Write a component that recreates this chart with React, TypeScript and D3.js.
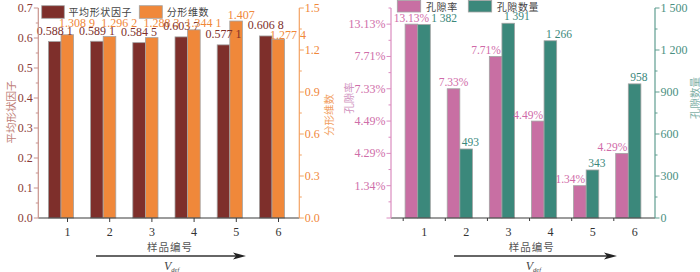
import React from 'react';
import * as d3 from 'd3';

// sample ids and measured values
const samples = [1, 2, 3, 4, 5, 6];
const shapeFactor = [0.5881, 0.5891, 0.5845, 0.6037, 0.5771, 0.6068];
const fractalDim = [1.3089, 1.2962, 1.2883, 1.3441, 1.407, 1.2774];
const porosity = [13.13, 7.33, 7.71, 4.49, 1.34, 4.29];
const poreCount = [1382, 493, 1391, 1266, 343, 958];

const shapeTicks = [0, 0.1, 0.2, 0.3, 0.4, 0.5, 0.6, 0.7];
const fractalTicks = [0, 0.3, 0.6, 0.9, 1.2, 1.5];
const countTicks = [0, 300, 600, 900, 1200, 1500];

const W = 700;
const H = 272;
const SERIF = '"Liberation Serif", "Times New Roman", serif';
const CJK = '"Noto Sans CJK SC", sans-serif';

const C = {
  maroon: '#7e2f2b',
  orange: '#f0883a',
  pink: '#c86fa3',
  teal: '#3b887b',
  barStroke: '#a3a3a3',
  base: '#3a3a3a',
};

let ctx: CanvasRenderingContext2D | null = null;
function textWidth(s: string, size: number) {
  if (!ctx) ctx = document.createElement('canvas').getContext('2d');
  if (!ctx) return s.length * size * 0.5;
  ctx.font = `${size}px "Liberation Serif"`;
  return ctx.measureText(s).width;
}

const fmt4 = (v: number) => {
  const s = v.toFixed(4).replace(/0+$/, '');
  const [a, b] = s.split('.');
  return b && b.length > 3 ? `${a}.${b.slice(0, 3)} ${b.slice(3)}` : s;
};
const fmtInt = (v: number) => d3.format(',')(v).replace(/,/g, ' ');

type AxisProps = {
  x: number;
  scale: d3.ScaleLinear<number, number>;
  ticks: number[];
  minor: number[];
  labels: (string | null)[];
  side: 'left' | 'right';
  line: string;
  text: string;
};

function VAxis({ x, scale, ticks, minor, labels, side, line, text }: AxisProps) {
  const dir = side === 'left' ? -1 : 1;
  const [d0, d1] = scale.domain();
  return (
    <g>
      <line x1={x} x2={x} y1={scale(d0)} y2={scale(d1)} stroke={line} strokeWidth={1.2} />
      {minor.map((t, i) => (
        <line key={'m' + i} x1={x} x2={x + dir * 2.5} y1={scale(t)} y2={scale(t)} stroke={line} />
      ))}
      {ticks.map((t, i) => (
        <g key={i}>
          <line x1={x} x2={x + dir * 4.5} y1={scale(t)} y2={scale(t)} stroke={line} />
          {labels[i] != null && (
            <text x={x + dir * 5.5} y={scale(t) + 4} textAnchor={side === 'left' ? 'end' : 'start'}
              fontFamily={SERIF} fontSize={12} fill={text}>{labels[i]}</text>
          )}
        </g>
      ))}
    </g>
  );
}

function VTitle({ x, y, label, color }: { x: number; y: number; label: string; color: string }) {
  return (
    <text transform={`translate(${x},${y}) rotate(-90)`} textAnchor="middle" dominantBaseline="central"
      fontFamily={CJK} fontSize={10.5} fill={color}>{label}</text>
  );
}

function XFooter({ cx, x0, x1 }: { cx: number; x0: number; x1: number }) {
  return (
    <g>
      <text x={cx} y={251} textAnchor="middle" fontFamily={CJK} fontSize={10.5} fill="#555" letterSpacing={1}>样品编号</text>
      <line x1={x0} x2={x1 - 10} y1={256} y2={256} stroke="#333" strokeWidth={1.3} />
      <path d={`M${x1},256 L${x1 - 13},252.5 L${x1 - 10},256 L${x1 - 13},259.5 Z`} fill="#222" />
      <text x={cx - 6} y={270} fontFamily={SERIF} fontSize={12} fontStyle="italic" fill="#444">
        V<tspan fontSize={6.5} dy={2}>def</tspan>
      </text>
    </g>
  );
}

export default function App() {
  const y0 = 218;
  const yTop = 8;
  const bw = 12.6;

  // left chart
  const xL = d3.scalePoint<number>().domain(samples).range([61, 272]);
  const yShape = d3.scaleLinear().domain([0, 0.7]).range([y0, yTop]);
  const yFrac = d3.scaleLinear().domain([0, 1.5]).range([y0, yTop]);
  const leftAxisX = 38.3;
  const rightAxisX = 299.3;

  // right chart
  const xR = d3.scalePoint<number>().domain(samples).range([417.7, 628.3]);
  const sortedPor = [...porosity].sort((a, b) => a - b);
  const yRank = d3.scaleLinear().domain([0, 6.5]).range([y0, yTop]);
  const yCount = d3.scaleLinear().domain([0, 1500]).range([y0, yTop]);
  const porAxisX = 391;
  const cntAxisX = 655;

  const minorOf = (step: number, max: number) => d3.range(step / 2, max + 1e-9, step);

  return (
    <svg width={W} height={H} style={{ position: 'absolute', left: 0, top: 0, background: '#fff' }}>
      {/* ---------- left chart ---------- */}
      {samples.map((s, i) => {
        const c = xL(s)!;
        const tD = yShape(shapeFactor[i]);
        const tO = yFrac(fractalDim[i]);
        const orangeTaller = tO < tD;
        const oy = orangeTaller ? Math.min(tO - 2, 26.5) : tO - 0.5;
        return (
          <g key={'l' + s}>
            <rect x={c - bw} y={tD} width={bw} height={y0 - tD} fill={C.maroon} stroke={C.barStroke} strokeWidth={0.8} />
            <rect x={c} y={tO} width={bw} height={y0 - tO} fill={C.orange} stroke={C.barStroke} strokeWidth={0.8} />
            <text x={c - bw / 2} y={tD - 6.5} textAnchor="middle" fontFamily={SERIF} fontSize={12} fill={C.maroon}>
              {fmt4(shapeFactor[i])}
            </text>
            <text x={c - 2} y={oy} textAnchor="start" fontFamily={SERIF} fontSize={12} fill={C.orange}>
              {fmt4(fractalDim[i])}
            </text>
            <line x1={c + 6.5} x2={c + 6.5} y1={y0} y2={y0 + 4} stroke={C.base} />
            <text x={c + 6.5} y={236} textAnchor="middle" fontFamily={SERIF} fontSize={12} fill="#333">{s}</text>
          </g>
        );
      })}
      <line x1={leftAxisX} x2={rightAxisX} y1={y0} y2={y0} stroke={C.base} strokeWidth={1.2} />
      <VAxis x={leftAxisX} scale={yShape} ticks={shapeTicks} minor={minorOf(0.1, 0.7)}
        labels={shapeTicks.map(t => t.toFixed(1))} side="left" line="#c9938d" text="#8a3a35" />
      <VAxis x={rightAxisX} scale={yFrac} ticks={fractalTicks} minor={minorOf(0.3, 1.5)}
        labels={fractalTicks.map(t => t.toFixed(1))} side="right" line="#f3a263" text="#f0883a" />
      <VTitle x={10} y={112} label="平均形状因子" color="#c07f79" />
      <VTitle x={328} y={115} label="分形维数" color="#f2a061" />

      {/* legend left */}
      <rect x={41.7} y={5.7} width={22.6} height={12.6} fill={C.maroon} stroke={C.barStroke} strokeWidth={0.8} />
      <text x={68.5} y={15.5} fontFamily={CJK} fontSize={10} fill="#444" letterSpacing={0.6}>平均形状因子</text>
      <rect x={139.3} y={5.7} width={23} height={12.6} fill={C.orange} stroke={C.barStroke} strokeWidth={0.8} />
      <text x={166.7} y={15.5} fontFamily={CJK} fontSize={10} fill="#444" letterSpacing={0.6}>分形维数</text>

      <XFooter cx={170} x0={96} x1={246} />

      {/* ---------- right chart ---------- */}
      {samples.map((s, i) => {
        const c = xR(s)!;
        const rank = sortedPor.indexOf(porosity[i]) + 1;
        const tP = yRank(rank);
        const tC = yCount(poreCount[i]);
        const pLabel = `${porosity[i].toFixed(2)}%`;
        const cLabel = fmtInt(poreCount[i]);
        const pw = textWidth(pLabel, 11.5);
        const pinkTaller = tP <= tC + 1;
        const pStart = pinkTaller ? c - bw / 2 - pw / 2 : c - 1 - pw;
        const pEnd = pStart + pw;
        const py = tP - 2.5;
        const cy = tC - 3;
        const overlapY = Math.abs(py - cy) < 10;
        const cStart = Math.max(c + 2, overlapY ? pEnd + 2 : -Infinity);
        return (
          <g key={'r' + s}>
            <rect x={c - bw} y={tP} width={bw} height={y0 - tP} fill={C.pink} stroke={C.barStroke} strokeWidth={0.8} />
            <rect x={c} y={tC} width={bw} height={y0 - tC} fill={C.teal} stroke={C.barStroke} strokeWidth={0.8} />
            <text x={pStart} y={py} fontFamily={SERIF} fontSize={11.5} fill="#d06aa8">{pLabel}</text>
            <text x={cStart} y={cy} fontFamily={SERIF} fontSize={11.5} fill={C.teal}>{cLabel}</text>
            <line x1={c - 14.5} x2={c - 14.5} y1={y0} y2={y0 + 3} stroke={C.base} />
            <text x={c + 6.5} y={236} textAnchor="middle" fontFamily={SERIF} fontSize={12} fill="#333">{s}</text>
          </g>
        );
      })}
      <line x1={porAxisX} x2={cntAxisX} y1={y0} y2={y0} stroke={C.base} strokeWidth={1.2} />
      <VAxis x={porAxisX} scale={yRank} ticks={[0, ...d3.range(1, 7)]} minor={minorOf(1, 6.5)}
        labels={[null, ...sortedPor.map(v => `${v.toFixed(2)}%`)]} side="left" line="#db8cbf" text="#cf6ea9" />
      <VAxis x={cntAxisX} scale={yCount} ticks={countTicks} minor={minorOf(300, 1500)}
        labels={countTicks.map(fmtInt)} side="right" line="#5f9d90" text="#4a8f82" />
      <VTitle x={348} y={98} label="孔隙率" color="#d195bf" />
      <VTitle x={694} y={98} label="孔隙数量" color="#7fb0a6" />

      {/* legend right */}
      <rect x={397.3} y={0.5} width={23.4} height={11.5} fill={C.pink} stroke={C.barStroke} strokeWidth={0.8} />
      <text x={426} y={11} fontFamily={CJK} fontSize={10} fill="#444" letterSpacing={0.6}>孔隙率</text>
      <rect x={468.3} y={0.5} width={23.4} height={11.5} fill={C.teal} stroke={C.barStroke} strokeWidth={0.8} />
      <text x={496.7} y={11} fontFamily={CJK} fontSize={10} fill="#444" letterSpacing={0.6}>孔隙数量</text>

      <XFooter cx={531.7} x0={454} x1={617} />
    </svg>
  );
}
